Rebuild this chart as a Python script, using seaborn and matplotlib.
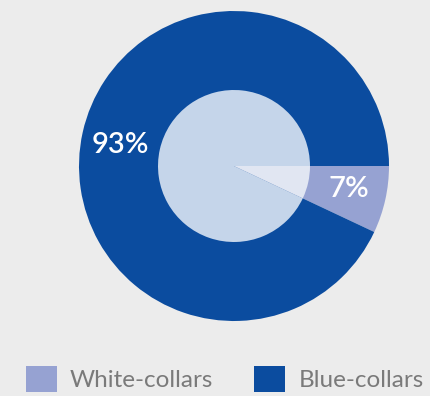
import matplotlib
matplotlib.use("Agg")
import matplotlib.pyplot as plt
import seaborn as sns

categories = ["White-collars", "Blue-collars"]
shares = [7, 93]
labels = ["7%", "93%"]

outer_colors = ["#96a2d2", "#0b4c9f"]
inner_colors = ["#e1e6f2", "#c5d5ea"]
bg = "#ececec"

sns.set_theme(style="white")
plt.rcParams["font.family"] = ["Lato", "DejaVu Sans"]

W, H = 430, 396
fig = plt.figure(figsize=(W / 100, H / 100), dpi=100, facecolor=bg)
ax = fig.add_axes([0, 0, 1, 1])
ax.set_facecolor(bg)

cx, cy = 234, H - 166
wedges, _ = ax.pie(shares, radius=155, center=(cx, cy), colors=outer_colors,
                   startangle=0, counterclock=False, frame=True,
                   wedgeprops=dict(linewidth=0))
ax.pie(shares, radius=76, center=(cx, cy), colors=inner_colors,
       startangle=0, counterclock=False, frame=True,
       wedgeprops=dict(linewidth=0))
ax.set_xlim(0, W)
ax.set_ylim(0, H)
ax.set_aspect("equal")
ax.axis("off")

# percentage labels
ax.text(349, H - 189, labels[0], color="white", fontsize=21, fontweight="semibold",
        ha="center", va="center")
ax.text(120, H - 145, labels[1], color="white", fontsize=21, fontweight="semibold",
        ha="center", va="center")

fs = 17.5
fspx = fs * 100 / 72
leg = fig.legend(wedges, categories, loc="upper left",
                 bbox_to_anchor=(26 / W, 1 - 366 / H), frameon=False, ncol=2,
                 fontsize=fs, handlelength=31 / fspx, handleheight=31 / fspx,
                 handletextpad=13 / fspx, columnspacing=41 / fspx,
                 borderpad=0, borderaxespad=0, labelcolor="#7a7a7a")

fig.savefig("out.png", dpi=100, facecolor=bg)
